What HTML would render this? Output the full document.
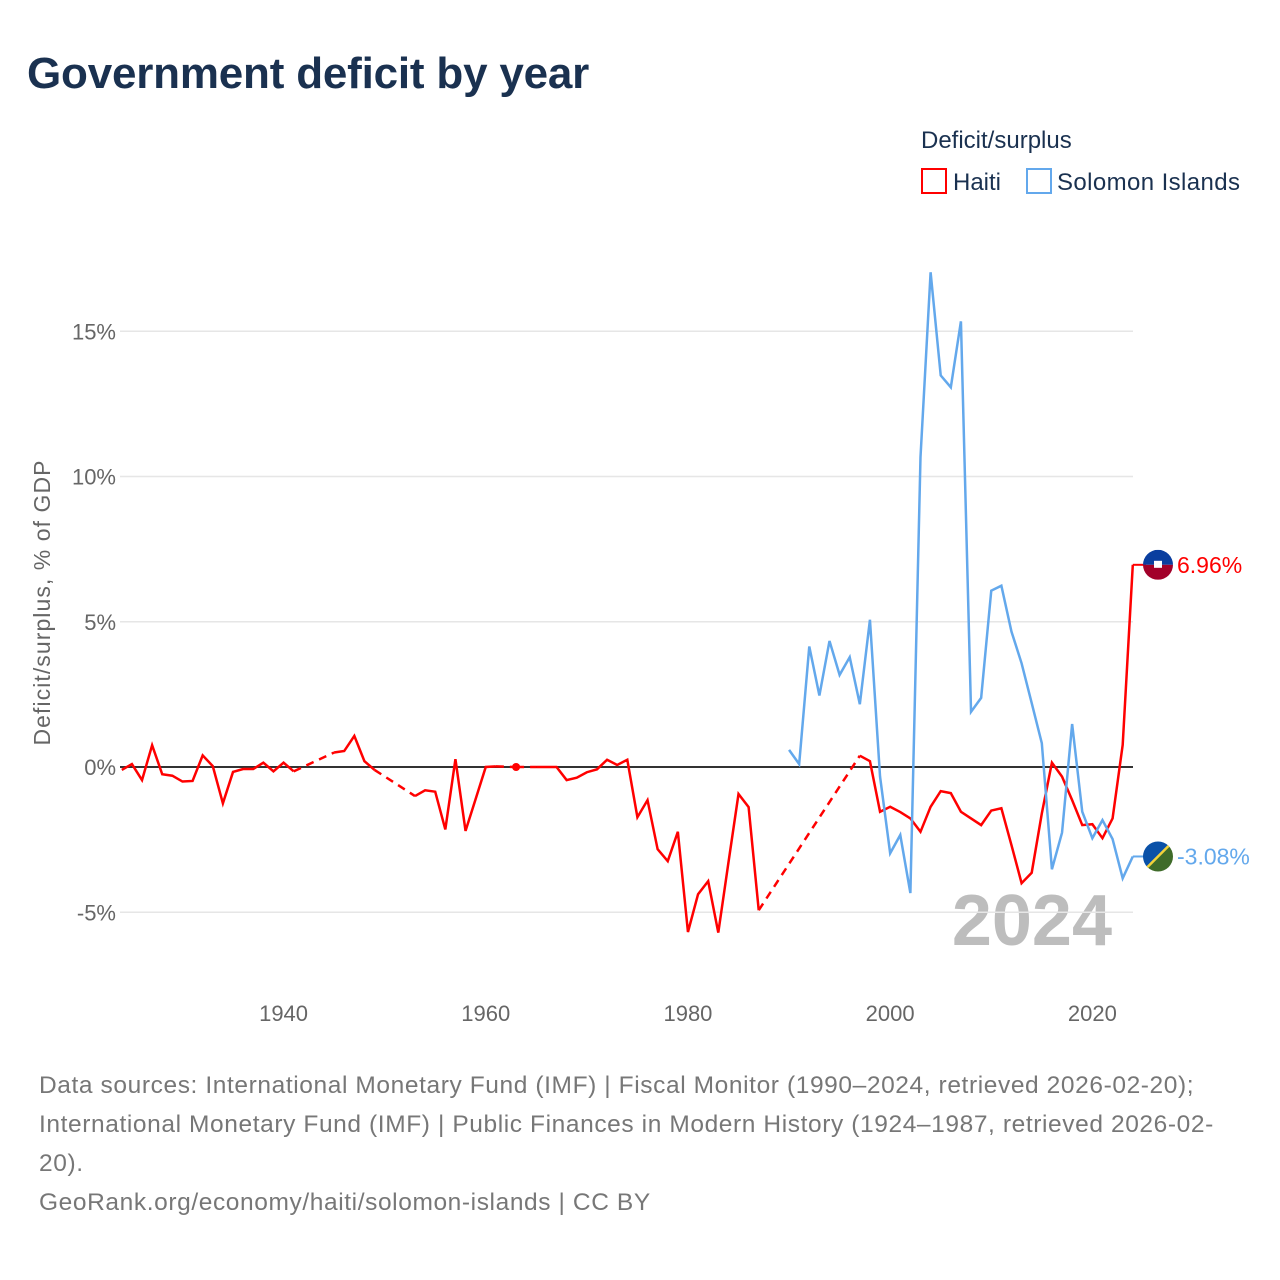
<!DOCTYPE html>
<html><head><meta charset="utf-8">
<style>
html,body{margin:0;padding:0;background:#fff;}
body{width:1280px;height:1280px;position:relative;overflow:hidden;font-family:"Liberation Sans",sans-serif;}
#title{position:absolute;left:27px;top:49px;font-size:44px;font-weight:bold;color:#1a3150;margin:0;letter-spacing:-0.2px;}
#footer{position:absolute;left:39px;top:1066px;width:1240px;font-size:24.5px;letter-spacing:0.6px;line-height:39px;color:#777;white-space:nowrap;}
</style></head>
<body>
<h1 id="title">Government deficit by year</h1>
<svg id="chart" width="1280" height="1280" style="position:absolute;left:0;top:0">
  <text x="921" y="148" font-size="24" fill="#1a3150">Deficit/surplus</text>
  <g>
    <rect x="922" y="169" width="24" height="24" fill="none" stroke="#ff0000" stroke-width="2"/>
    <text x="953" y="190" font-size="24" fill="#1a3150">Haiti</text>
  </g>
  <g>
    <rect x="1027" y="169" width="24" height="24" fill="none" stroke="#63a8ec" stroke-width="2"/>
    <text x="1057" y="190" font-size="24" fill="#1a3150" textLength="183">Solomon Islands</text>
  </g>
  <text x="50" y="603" font-size="23" fill="#666" text-anchor="middle" transform="rotate(-90 50 603)" textLength="285">Deficit/surplus, % of GDP</text>
  <text x="1112" y="945" font-size="72" font-weight="bold" fill="#bdbdbd" text-anchor="end">2024</text>
  <g id="grid"></g>
  <g id="series"></g>
  <g id="endlabels"></g>
</svg>
<div id="footer">Data sources: International Monetary Fund (IMF) | Fiscal Monitor (1990–2024, retrieved 2026-02-20);<br>International Monetary Fund (IMF) | Public Finances in Modern History (1924–1987, retrieved 2026-02-<br>20).<br>GeoRank.org/economy/haiti/solomon-islands | CC BY</div>
<script>
const startYear = 1924;
const haitiValues = [-0.1,0.1,-0.45,0.75,-0.25,-0.3,-0.5,-0.48,0.4,0.03,-1.25,-0.17,-0.07,-0.07,0.15,-0.15,0.15,-0.15,
 null,null,null,0.5,0.55,1.07,0.2,-0.1,null,null,null,-1.0,-0.8,-0.85,-2.15,0.27,-2.2,-1.1,0,0.02,null,0,null,0,0,0,
 -0.45,-0.37,-0.18,-0.08,0.25,0.07,0.25,-1.73,-1.14,-2.83,-3.24,-2.23,-5.68,-4.38,-3.93,-5.7,-3.3,-0.93,-1.38,-4.93,
 null,null,null,null,null,null,null,null,null,0.39,0.2,-1.54,-1.37,-1.55,-1.77,-2.23,-1.37,-0.83,-0.9,-1.54,-1.77,-2.0,
 -1.5,-1.42,-2.69,-4.0,-3.64,-1.6,0.15,-0.33,-1.14,-2.0,-1.97,-2.45,-1.77,0.76,6.96];
const solomonStart = 1990;
const solomonValues = [0.59,0.1,4.15,2.46,4.34,3.17,3.78,2.16,5.07,-0.33,-2.97,-2.34,-4.34,10.66,17.03,13.48,13.07,15.34,
 1.9,2.38,6.07,6.24,4.66,3.57,2.2,0.82,-3.52,-2.26,1.48,-1.54,-2.45,-1.83,-2.48,-3.83,-3.08];
const yTicks = [-5,0,5,10,15];
const yTickLabels = ["-5%","0%","5%","10%","15%"];
const xTicks = [1940,1960,1980,2000,2020];

const NS="http://www.w3.org/2000/svg";
const X0=121.8, PXY=10.11, Y0=767, PXV=29.05, XR=1133;
function xs(y){return X0+(y-1924)*PXY;}
function ys(v){return Y0-v*PXV;}
function mk(tag,attrs,parent){const e=document.createElementNS(NS,tag);for(const k in attrs)e.setAttribute(k,attrs[k]);parent.appendChild(e);return e;}
const grid=document.getElementById('grid');
yTicks.forEach((t,i)=>{
  if(t!==0){
    const l=mk('line',{x1:120,x2:XR,y1:ys(t),y2:ys(t),stroke:'#e6e6e6','stroke-width':1.5},grid);
    
    
  }
  const tx=mk('text',{x:116,y:ys(t)+8,'font-size':22,fill:'#666','text-anchor':'end'},grid);
  tx.textContent=yTickLabels[i];
  
  
});
xTicks.forEach(t=>{
  const tx=mk('text',{x:xs(t),y:1021,'font-size':22,fill:'#666','text-anchor':'middle'},grid);
  tx.textContent=t;
  
  
});
const zl=mk('line',{x1:120,x2:XR,y1:Y0,y2:Y0,stroke:'#333','stroke-width':2},grid);



const ser=document.getElementById('series');
function drawSeries(vals,start,color,name){
  const pts=[];vals.forEach((v,i)=>{if(v!==null)pts.push([start+i,v]);});
  let solid=[];const segs=[];
  for(let i=0;i<pts.length;i++){
    if(i>0&&pts[i][0]-pts[i-1][0]>1){
      segs.push(solid);solid=[];
      const d=mk('line',{x1:xs(pts[i-1][0]),y1:ys(pts[i-1][1]),x2:xs(pts[i][0]),y2:ys(pts[i][1]),stroke:color,'stroke-width':2.5,'stroke-dasharray':'8,6'},ser);
      
      
    }
    solid.push(pts[i]);
  }
  segs.push(solid);
  segs.forEach(s=>{
    if(s.length===1){
      const c=mk('circle',{cx:xs(s[0][0]),cy:ys(s[0][1]),r:4,fill:color},ser);
      
      
    } else {
      const p=mk('polyline',{points:s.map(q=>xs(q[0])+','+ys(q[1])).join(' '),fill:'none',stroke:color,'stroke-width':2.5,'stroke-linejoin':'miter'},ser);
      
      
    }
  });
  return pts[pts.length-1];
}
const hl=drawSeries(haitiValues,startYear,'#ff0000','haiti');
const sl=drawSeries(solomonValues,solomonStart,'#63a8ec','solomon-islands');

const el=document.getElementById('endlabels');
function endLabel(last,color,name,flag){
  const y=ys(last[1]);
  mk('line',{x1:xs(last[0]),x2:1146,y1:y,y2:y,stroke:color,'stroke-width':2},el);
  const g=mk('g',{},el);
  
  
  flag(g,1158,y);
  const t=mk('text',{x:1177,y:y+8,'font-size':23,fill:color},el);
  t.textContent=last[1].toFixed(2)+'%';
  
  
}
endLabel(hl,'#ff0000','haiti',(g,cx,cy)=>{
  mk('defs',{},g).innerHTML='<clipPath id="ch"><circle cx="'+cx+'" cy="'+cy+'" r="15"/></clipPath>';
  mk('rect',{x:cx-15,y:cy-15,width:30,height:15,fill:'#0a3e9f','clip-path':'url(#ch)'},g);
  mk('rect',{x:cx-15,y:cy,width:30,height:15,fill:'#a2002a','clip-path':'url(#ch)'},g);
  mk('rect',{x:cx-4,y:cy-4,width:8,height:7,fill:'#fff'},g);
});
endLabel(sl,'#63a8ec','solomon-islands',(g,cx,cy)=>{
  mk('defs',{},g).innerHTML='<clipPath id="cs"><circle cx="'+cx+'" cy="'+cy+'" r="15"/></clipPath>';
  mk('polygon',{points:(cx-15)+','+(cy-15)+' '+(cx+15)+','+(cy-15)+' '+(cx-15)+','+(cy+15),fill:'#0a51a8','clip-path':'url(#cs)'},g);
  mk('polygon',{points:(cx+15)+','+(cy-15)+' '+(cx+15)+','+(cy+15)+' '+(cx-15)+','+(cy+15),fill:'#3f6b2a','clip-path':'url(#cs)'},g);
  mk('line',{x1:cx+15,y1:cy-15,x2:cx-15,y2:cy+15,stroke:'#f3d23a','stroke-width':2.5,'clip-path':'url(#cs)'},g);
});
</script>
</body></html>
